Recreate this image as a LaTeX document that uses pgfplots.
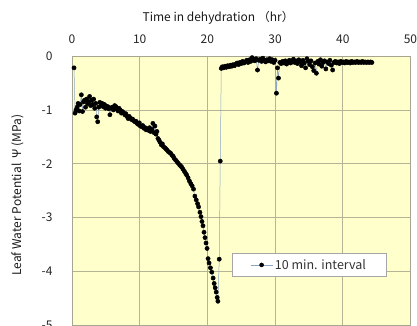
\documentclass[border=0pt]{standalone}
\usepackage{pgfplots}
\pgfplotsset{compat=1.18}
\usepackage{fontspec}
\setmainfont{Noto Sans CJK JP}
\definecolor{bgyellow}{RGB}{255,255,204}
\definecolor{gridc}{RGB}{180,180,150}
\definecolor{framec}{RGB}{165,165,145}
\definecolor{linec}{RGB}{140,165,195}
\pgfplotstableread{
t psi
0.30 -0.22
0.45 -1.06
0.60 -1.00
0.75 -0.95
0.90 -0.88
1.05 -1.02
1.20 -0.90
1.38 -0.72
1.55 -1.03
1.70 -0.85
1.85 -0.82
2.00 -0.95
2.15 -0.80
2.30 -0.88
2.45 -0.85
2.60 -0.75
2.75 -0.92
2.90 -0.82
3.05 -0.90
3.20 -0.80
3.35 -0.97
3.50 -0.88
3.65 -1.13
3.80 -1.22
3.95 -0.95
4.10 -0.86
4.30 -0.91
4.45 -0.88
4.60 -0.94
4.80 -0.90
4.95 -0.97
5.10 -0.93
5.30 -0.94
5.45 -0.98
5.60 -1.09
5.80 -0.96
5.95 -0.95
6.10 -1.00
6.30 -0.92
6.50 -0.94
6.65 -0.99
6.80 -1.02
6.95 -0.97
7.10 -1.00
7.30 -1.06
7.45 -1.03
7.60 -1.05
7.80 -1.09
7.95 -1.07
8.10 -1.12
8.30 -1.16
8.45 -1.12
8.60 -1.15
8.80 -1.18
8.95 -1.17
9.10 -1.20
9.30 -1.22
9.45 -1.21
9.60 -1.25
9.80 -1.27
9.95 -1.24
10.10 -1.30
10.30 -1.31
10.45 -1.29
10.60 -1.34
10.80 -1.33
10.95 -1.37
11.10 -1.35
11.30 -1.38
11.45 -1.33
11.60 -1.40
11.80 -1.36
11.95 -1.25
12.10 -1.42
12.25 -1.30
12.40 -1.45
12.55 -1.40
12.70 -1.53
12.85 -1.56
13.00 -1.60
13.20 -1.65
13.35 -1.63
13.50 -1.68
13.70 -1.70
13.85 -1.72
14.00 -1.74
14.20 -1.77
14.40 -1.79
14.55 -1.80
14.75 -1.84
14.95 -1.86
15.10 -1.90
15.30 -1.93
15.50 -1.96
15.70 -1.99
15.90 -2.02
16.05 -2.04
16.20 -2.06
16.40 -2.10
16.60 -2.14
16.80 -2.18
16.95 -2.21
17.15 -2.26
17.35 -2.32
17.55 -2.37
17.75 -2.41
17.95 -2.47
18.15 -2.60
18.35 -2.67
18.55 -2.74
18.70 -2.80
18.90 -2.90
19.05 -2.98
19.20 -3.07
19.35 -3.15
19.50 -3.27
19.65 -3.37
19.80 -3.47
19.95 -3.57
20.10 -3.76
20.25 -3.84
20.45 -3.93
20.65 -4.01
20.85 -4.12
21.00 -4.22
21.15 -4.30
21.30 -4.38
21.45 -4.48
21.55 -4.55
21.75 -3.77
21.90 -1.95
22.05 -0.23
22.20 -0.20
22.40 -0.22
22.60 -0.19
22.80 -0.21
23.00 -0.18
23.20 -0.20
23.40 -0.17
23.60 -0.19
23.80 -0.16
24.00 -0.18
24.20 -0.15
24.40 -0.13
24.60 -0.16
24.80 -0.12
25.00 -0.14
25.20 -0.10
25.40 -0.13
25.60 -0.11
25.80 -0.08
26.00 -0.12
26.20 -0.07
26.40 -0.10
26.60 -0.03
26.80 -0.06
27.00 -0.09
27.20 -0.05
27.40 -0.26
27.60 -0.08
27.80 -0.06
28.00 -0.10
28.20 -0.04
28.40 -0.08
28.60 -0.11
28.80 -0.07
29.00 -0.09
29.20 -0.05
29.40 -0.10
29.60 -0.07
29.80 -0.12
30.00 -0.08
30.20 -0.69
30.35 -0.22
30.50 -0.41
30.70 -0.12
30.90 -0.14
31.10 -0.10
31.30 -0.13
31.50 -0.09
31.70 -0.15
31.90 -0.11
32.10 -0.08
32.30 -0.13
32.50 -0.10
32.70 -0.06
32.90 -0.12
33.10 -0.09
33.30 -0.14
33.50 -0.07
33.70 -0.11
33.90 -0.18
34.10 -0.08
34.30 -0.13
34.50 -0.22
34.70 -0.05
34.90 -0.10
35.10 -0.16
35.30 -0.09
35.50 -0.20
35.70 -0.27
35.90 -0.13
36.10 -0.32
36.30 -0.10
36.50 -0.15
36.70 -0.07
36.90 -0.19
37.10 -0.12
37.30 -0.09
37.50 -0.24
37.70 -0.11
37.90 -0.14
38.10 -0.08
38.30 -0.17
38.50 -0.26
38.70 -0.12
38.90 -0.10
39.10 -0.13
39.30 -0.11
39.50 -0.14
39.70 -0.10
39.90 -0.12
40.10 -0.11
40.30 -0.13
40.50 -0.10
40.70 -0.12
40.90 -0.11
41.10 -0.13
41.30 -0.10
41.50 -0.12
41.70 -0.11
41.90 -0.12
42.10 -0.10
42.30 -0.12
42.50 -0.11
42.70 -0.12
42.90 -0.10
43.10 -0.12
43.30 -0.11
43.50 -0.12
43.70 -0.11
43.90 -0.12
44.10 -0.11
44.30 -0.12
}\datatable
\begin{document}
\begin{tikzpicture}
\begin{axis}[
  scale only axis, width=338.5pt, height=269.5pt,
  xmin=0, xmax=50, ymin=-5, ymax=0,
  xtick={0,10,...,50}, ytick={-5,-4,...,0},
  xticklabel pos=upper,
  major tick length=0pt,
  grid=major,
  major grid style={gridc, line width=0.6pt},
  axis background/.style={fill=bgyellow},
  axis line style={framec, line width=0.6pt},
  clip=false,
  tick label style={font=\fontsize{12}{14}\selectfont, text=black!85, /pgf/number format/assume math mode=true},
  xticklabel shift=8.5pt,
  yticklabel shift=16pt,
  xlabel={Time in dehydration （hr）},
  ylabel={Leaf Water Potential \ Ψ (MPa)},
  xlabel style={font=\fontsize{12}{14}\selectfont, text=black!90, at={(axis description cs:0.5,1)}, anchor=center, yshift=38pt, xshift=-23pt},
  ylabel style={font=\fontsize{12}{14}\selectfont, text=black!90, at={(axis description cs:0,0.484)}, anchor=center, yshift=54.5pt},
  legend style={at={(0.473,0.269)}, anchor=north west, draw=gray!70, fill=white,
    font=\fontsize{12.5}{15}\selectfont, text=black!80, inner xsep=18pt, inner ysep=4pt},
  legend image code/.code={\draw[linec, line width=0.6pt] (0pt,0pt) -- (22pt,0pt);
    \fill[black] (11pt,0pt) circle (2pt);},
]
\addplot[linec, line width=0.5pt, mark=*, mark size=2.1pt, mark options={black, fill=black}] table[x=t, y=psi] {\datatable};
\addlegendentry{10 min. interval}
\coordinate (sw) at (rel axis cs:0,0);
\coordinate (ne) at (rel axis cs:1,1);
\end{axis}
\pgfresetboundingbox
\path[use as bounding box] ([xshift=-72pt]sw) rectangle ([xshift=6.5pt,yshift=56pt]ne);
\end{tikzpicture}
\end{document}
